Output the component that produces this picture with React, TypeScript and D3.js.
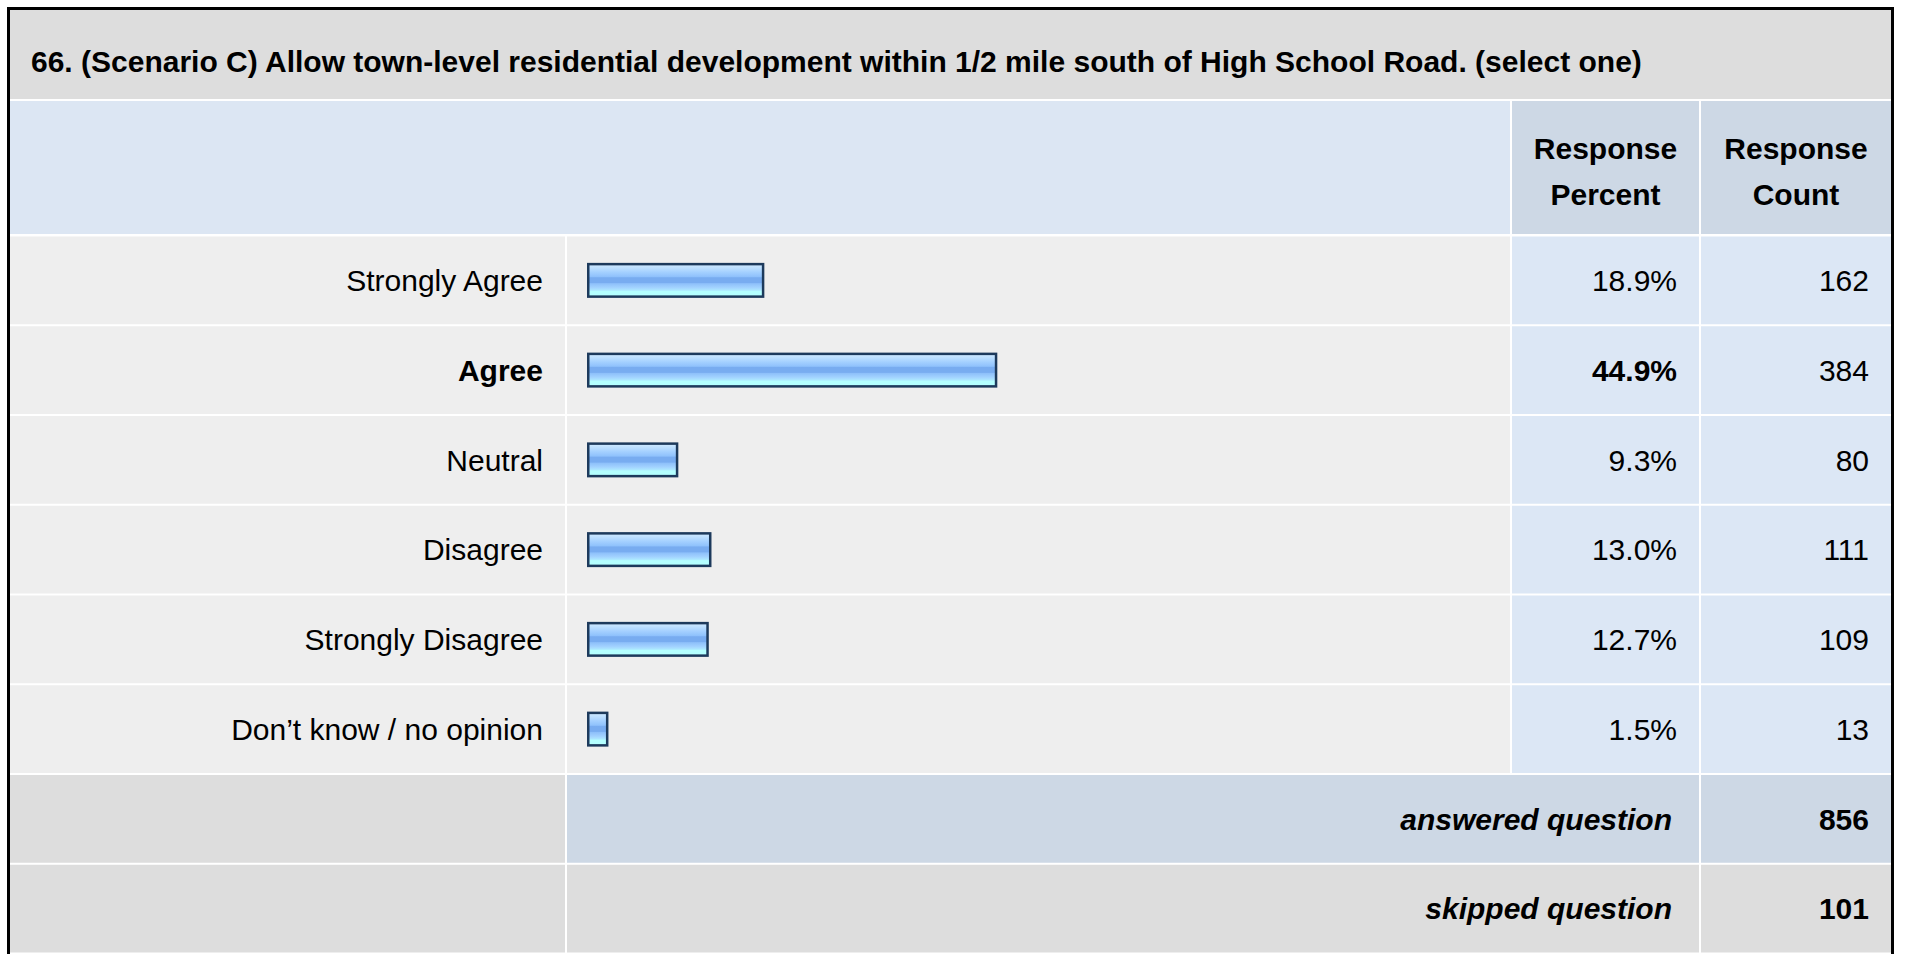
import React from "react";
import * as d3 from "d3";

const TITLE =
  "66. (Scenario C) Allow town-level residential development within 1/2 mile south of High School Road. (select one)";
const categories = [
  "Strongly Agree",
  "Agree",
  "Neutral",
  "Disagree",
  "Strongly Disagree",
  "Don\u2019t know / no opinion",
];
const percents = [18.9, 44.9, 9.3, 13.0, 12.7, 1.5];
const counts = [162, 384, 80, 111, 109, 13];
const headerPercent = ["Response", "Percent"];
const headerCount = ["Response", "Count"];
const footerLabels = ["answered question", "skipped question"];
const footerValues = [856, 101];

const W = 1907;
const H = 954;
const FONT = "'Liberation Sans', Arial, Helvetica, sans-serif";

export default function App() {
  // column edges
  const L0 = 10,
    L1 = 565,
    B0 = 567,
    B1 = 1510,
    P0 = 1512,
    P1 = 1699,
    C0 = 1701,
    C1 = 1891;
  const gap = 2;

  const rowKeys = [...categories, ...footerLabels];
  const y = d3.scaleBand<string>().domain(rowKeys).range([235.5, 953.5]).paddingInner(0);
  const bw = y.bandwidth();
  const x = d3.scaleLinear().domain([0, 100]).range([0, 896]);
  const barX = 587;
  const barH = 35;
  const maxIdx = percents.indexOf(d3.max(percents) as number);

  const bg = "#eeeeee";
  const blueCell = "#dce7f5";
  const headBlue = "#dce6f3";
  const darkBlue = "#cdd8e5";
  const gray = "#dddddd";

  const fs = 30;
  const textDy = fs * 0.36;

  return (
    <svg
      width={W}
      height={H}
      style={{ position: "absolute", left: 0, top: 0, display: "block" }}
      fontFamily={FONT}
    >
      <defs>
        <linearGradient id="barGrad" x1="0" y1="0" x2="0" y2="1">
          <stop offset="0" stopColor="#d2eaff" />
          <stop offset="0.12" stopColor="#bcdfff" />
          <stop offset="0.25" stopColor="#a4d0ff" />
          <stop offset="0.38" stopColor="#90c2fc" />
          <stop offset="0.42" stopColor="#78acf0" />
          <stop offset="0.57" stopColor="#78acf0" />
          <stop offset="0.6" stopColor="#8ec0fa" />
          <stop offset="0.72" stopColor="#a2d2ff" />
          <stop offset="0.8" stopColor="#ace6ff" />
          <stop offset="0.84" stopColor="#b4ffff" />
          <stop offset="1" stopColor="#b4ffff" />
        </linearGradient>
      </defs>
      <rect x={0} y={0} width={W} height={H} fill="#ffffff" />
      {/* outer black frame */}
      <rect x={8.5} y={8.5} width={1884} height={H + 10} fill="#ffffff" stroke="#000000" strokeWidth={3} />

      {/* title */}
      <rect x={L0} y={10} width={C1 - L0} height={99 - 10} fill={gray} />
      <text x={31} y={72} fontSize={fs} fontWeight="bold" fill="#000">
        {TITLE}
      </text>

      {/* header */}
      <rect x={L0} y={101} width={B1 - L0} height={234 - 101} fill={headBlue} />
      <rect x={P0} y={101} width={P1 - P0} height={234 - 101} fill={darkBlue} />
      <rect x={C0} y={101} width={C1 - C0} height={234 - 101} fill={darkBlue} />
      {headerPercent.map((t, i) => (
        <text key={"hp" + i} x={(P0 + P1) / 2} y={159 + i * 46} textAnchor="middle" fontSize={fs} fontWeight="bold">
          {t}
        </text>
      ))}
      {headerCount.map((t, i) => (
        <text key={"hc" + i} x={(C0 + C1) / 2} y={159 + i * 46} textAnchor="middle" fontSize={fs} fontWeight="bold">
          {t}
        </text>
      ))}

      {/* data rows */}
      {categories.map((c, i) => {
        const y0 = y(c) as number;
        const cy = y0 + bw / 2;
        const bold = i === maxIdx;
        return (
          <g key={c}>
            <rect x={L0} y={y0 + gap / 2} width={L1 - L0} height={bw - gap} fill={bg} />
            <rect x={B0} y={y0 + gap / 2} width={B1 - B0} height={bw - gap} fill={bg} />
            <rect x={P0} y={y0 + gap / 2} width={P1 - P0} height={bw - gap} fill={blueCell} />
            <rect x={C0} y={y0 + gap / 2} width={C1 - C0} height={bw - gap} fill={blueCell} />
            <text x={543} y={cy + textDy} textAnchor="end" fontSize={fs} fontWeight={bold ? "bold" : "normal"}>
              {c}
            </text>
            <rect
              x={barX + 1.25}
              y={cy - barH / 2 + 1.25}
              width={x(percents[i]) + 8 - 2.5}
              height={barH - 2.5}
              fill="url(#barGrad)"
              stroke="#1d3a5c"
              strokeWidth={2.5}
            />
            <text x={1677} y={cy + textDy} textAnchor="end" fontSize={fs} fontWeight={bold ? "bold" : "normal"}>
              {percents[i].toFixed(1) + "%"}
            </text>
            <text x={1869} y={cy + textDy} textAnchor="end" fontSize={fs}>
              {counts[i]}
            </text>
          </g>
        );
      })}

      {/* footer rows */}
      {footerLabels.map((f, i) => {
        const y0 = y(f) as number;
        const cy = y0 + bw / 2;
        const mid = i === 0 ? darkBlue : gray;
        return (
          <g key={f}>
            <rect x={L0} y={y0 + gap / 2} width={L1 - L0} height={bw - gap} fill={gray} />
            <rect x={B0} y={y0 + gap / 2} width={P1 - B0} height={bw - gap} fill={mid} />
            <rect x={C0} y={y0 + gap / 2} width={C1 - C0} height={bw - gap} fill={mid} />
            <text x={1672} y={cy + textDy} textAnchor="end" fontSize={fs} fontWeight="bold" fontStyle="italic">
              {f}
            </text>
            <text x={1869} y={cy + textDy} textAnchor="end" fontSize={fs} fontWeight="bold">
              {footerValues[i]}
            </text>
          </g>
        );
      })}
    </svg>
  );
}
